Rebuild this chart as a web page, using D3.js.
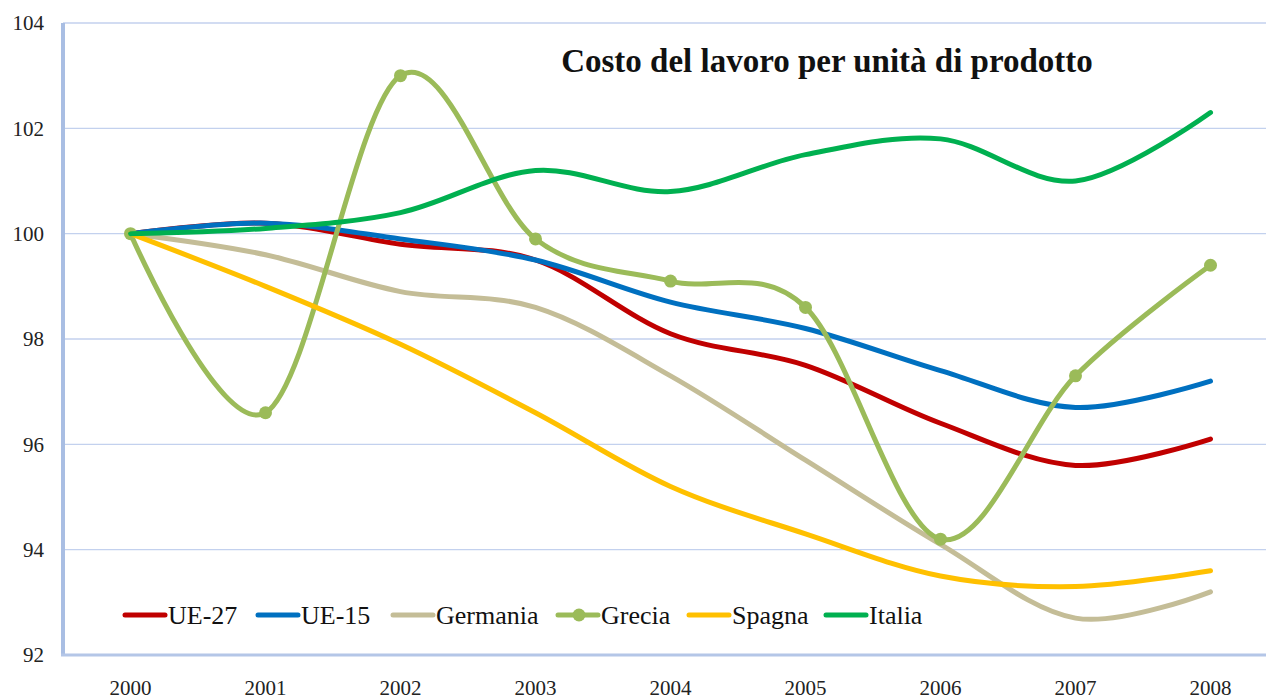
<!DOCTYPE html>
<html>
<head>
<meta charset="utf-8">
<script src="https://cdn.jsdelivr.net/npm/d3@7"></script>
<style>
  body { margin: 0; background: #fff; }
  svg { display: block; }
</style>
</head>
<body>
<figure id="chart" style="margin:0"></figure>
<script>
// data
const years = ["2000", "2001", "2002", "2003", "2004", "2005", "2006", "2007", "2008"];
const ue27 = [100, 100.2, 99.8, 99.5, 98.1, 97.5, 96.4, 95.6, 96.1];
const ue15 = [100, 100.2, 99.9, 99.5, 98.7, 98.2, 97.4, 96.7, 97.2];
const germania = [100, 99.6, 98.9, 98.6, 97.3, 95.7, 94.1, 92.7, 93.2];
const grecia = [100, 96.6, 103, 99.9, 99.1, 98.6, 94.2, 97.3, 99.4];
const spagna = [100, 99.0, 97.9, 96.6, 95.2, 94.3, 93.5, 93.3, 93.6];
const italia = [100, 100.1, 100.4, 101.2, 100.8, 101.5, 101.8, 101.0, 102.3];
const yTicks = [92, 94, 96, 98, 100, 102, 104];

const series = [
  { name: "UE-27", values: ue27, color: "#c00000" },
  { name: "UE-15", values: ue15, color: "#0070c0" },
  { name: "Germania", values: germania, color: "#c4bd97" },
  { name: "Grecia", values: grecia, color: "#9bbb59", marker: true },
  { name: "Spagna", values: spagna, color: "#ffc000" },
  { name: "Italia", values: italia, color: "#00b050" }
];

const W = 1266, H = 700;
const margin = { top: 23, right: -12, bottom: 45, left: 63 };
const FONT = "Liberation Serif";

const svg = d3.select("#chart").append("svg")
  .attr("width", W)
  .attr("height", H);

const x = d3.scalePoint()
  .domain(years)
  .range([margin.left, W - margin.right])
  .padding(0.5);

const y = d3.scaleLinear()
  .domain([92, 104])
  .range([H - margin.bottom, margin.top]);

// gridlines
svg.append("g")
  .selectAll("line")
  .data(yTicks.slice(1))
  .enter()
  .append("line")
  .attr("x1", margin.left)
  .attr("x2", W)
  .attr("y1", d => y(d))
  .attr("y2", d => y(d))
  .attr("stroke", "#c3d1ee")
  .attr("stroke-width", 1.3);

// y labels
svg.append("g")
  .selectAll("text")
  .data(yTicks)
  .enter()
  .append("text")
  .attr("x", 44)
  .attr("y", d => y(d))
  .attr("dy", "0.35em")
  .attr("text-anchor", "end")
  .attr("font-family", FONT)
  .attr("font-size", 21)
  .attr("fill", "#222")
  .text(d => d);

// axis lines
svg.append("line")
  .attr("x1", margin.left).attr("x2", margin.left)
  .attr("y1", y(104)).attr("y2", y(92))
  .attr("stroke", "#a9bee3").attr("stroke-width", 4);
svg.append("line")
  .attr("x1", margin.left - 2).attr("x2", W)
  .attr("y1", y(92)).attr("y2", y(92))
  .attr("stroke", "#b4c6e7").attr("stroke-width", 3);

// x labels
svg.append("g")
  .selectAll("text")
  .data(years)
  .enter()
  .append("text")
  .attr("x", d => x(d))
  .attr("y", 695)
  .attr("text-anchor", "middle")
  .attr("font-family", FONT)
  .attr("font-size", 21)
  .attr("fill", "#222")
  .text(d => d);

// title
svg.append("text")
  .attr("x", 827)
  .attr("y", 72)
  .attr("text-anchor", "middle")
  .attr("font-family", FONT)
  .attr("font-size", 33)
  .attr("font-weight", "bold")
  .attr("fill", "#111")
  .text("Costo del lavoro per unità di prodotto");

const line = d3.line()
  .x((d, i) => x(years[i]))
  .y(d => y(d))
  .curve(d3.curveCardinal.tension(0));

series.forEach(s => {
  svg.append("path")
    .datum(s.values)
    .attr("d", line)
    .attr("fill", "none")
    .attr("stroke", s.color)
    .attr("stroke-width", 5)
    .attr("stroke-linecap", "round");
  if (s.marker) {
    svg.append("g")
      .selectAll("circle")
      .data(s.values)
      .enter()
      .append("circle")
      .attr("cx", (d, i) => x(years[i]))
      .attr("cy", d => y(d))
      .attr("r", 6.5)
      .attr("fill", s.color);
  }
});

// legend
const legendX = [125, 258, 393, 558, 689, 826];
const leg = svg.append("g");
series.forEach((s, i) => {
  const g = leg.append("g").attr("transform", "translate(" + legendX[i] + ",615)");
  g.append("line")
    .attr("x1", 0).attr("x2", 40)
    .attr("stroke", s.color).attr("stroke-width", 5)
    .attr("stroke-linecap", "round");
  if (s.marker) {
    g.append("circle").attr("cx", 21).attr("r", 6.5).attr("fill", s.color);
  }
  g.append("text")
    .attr("x", 43)
    .attr("dy", "0.35em")
    .attr("font-family", FONT)
    .attr("font-size", 26)
    .attr("fill", "#111")
    .text(s.name);
});
</script>
</body>
</html>
